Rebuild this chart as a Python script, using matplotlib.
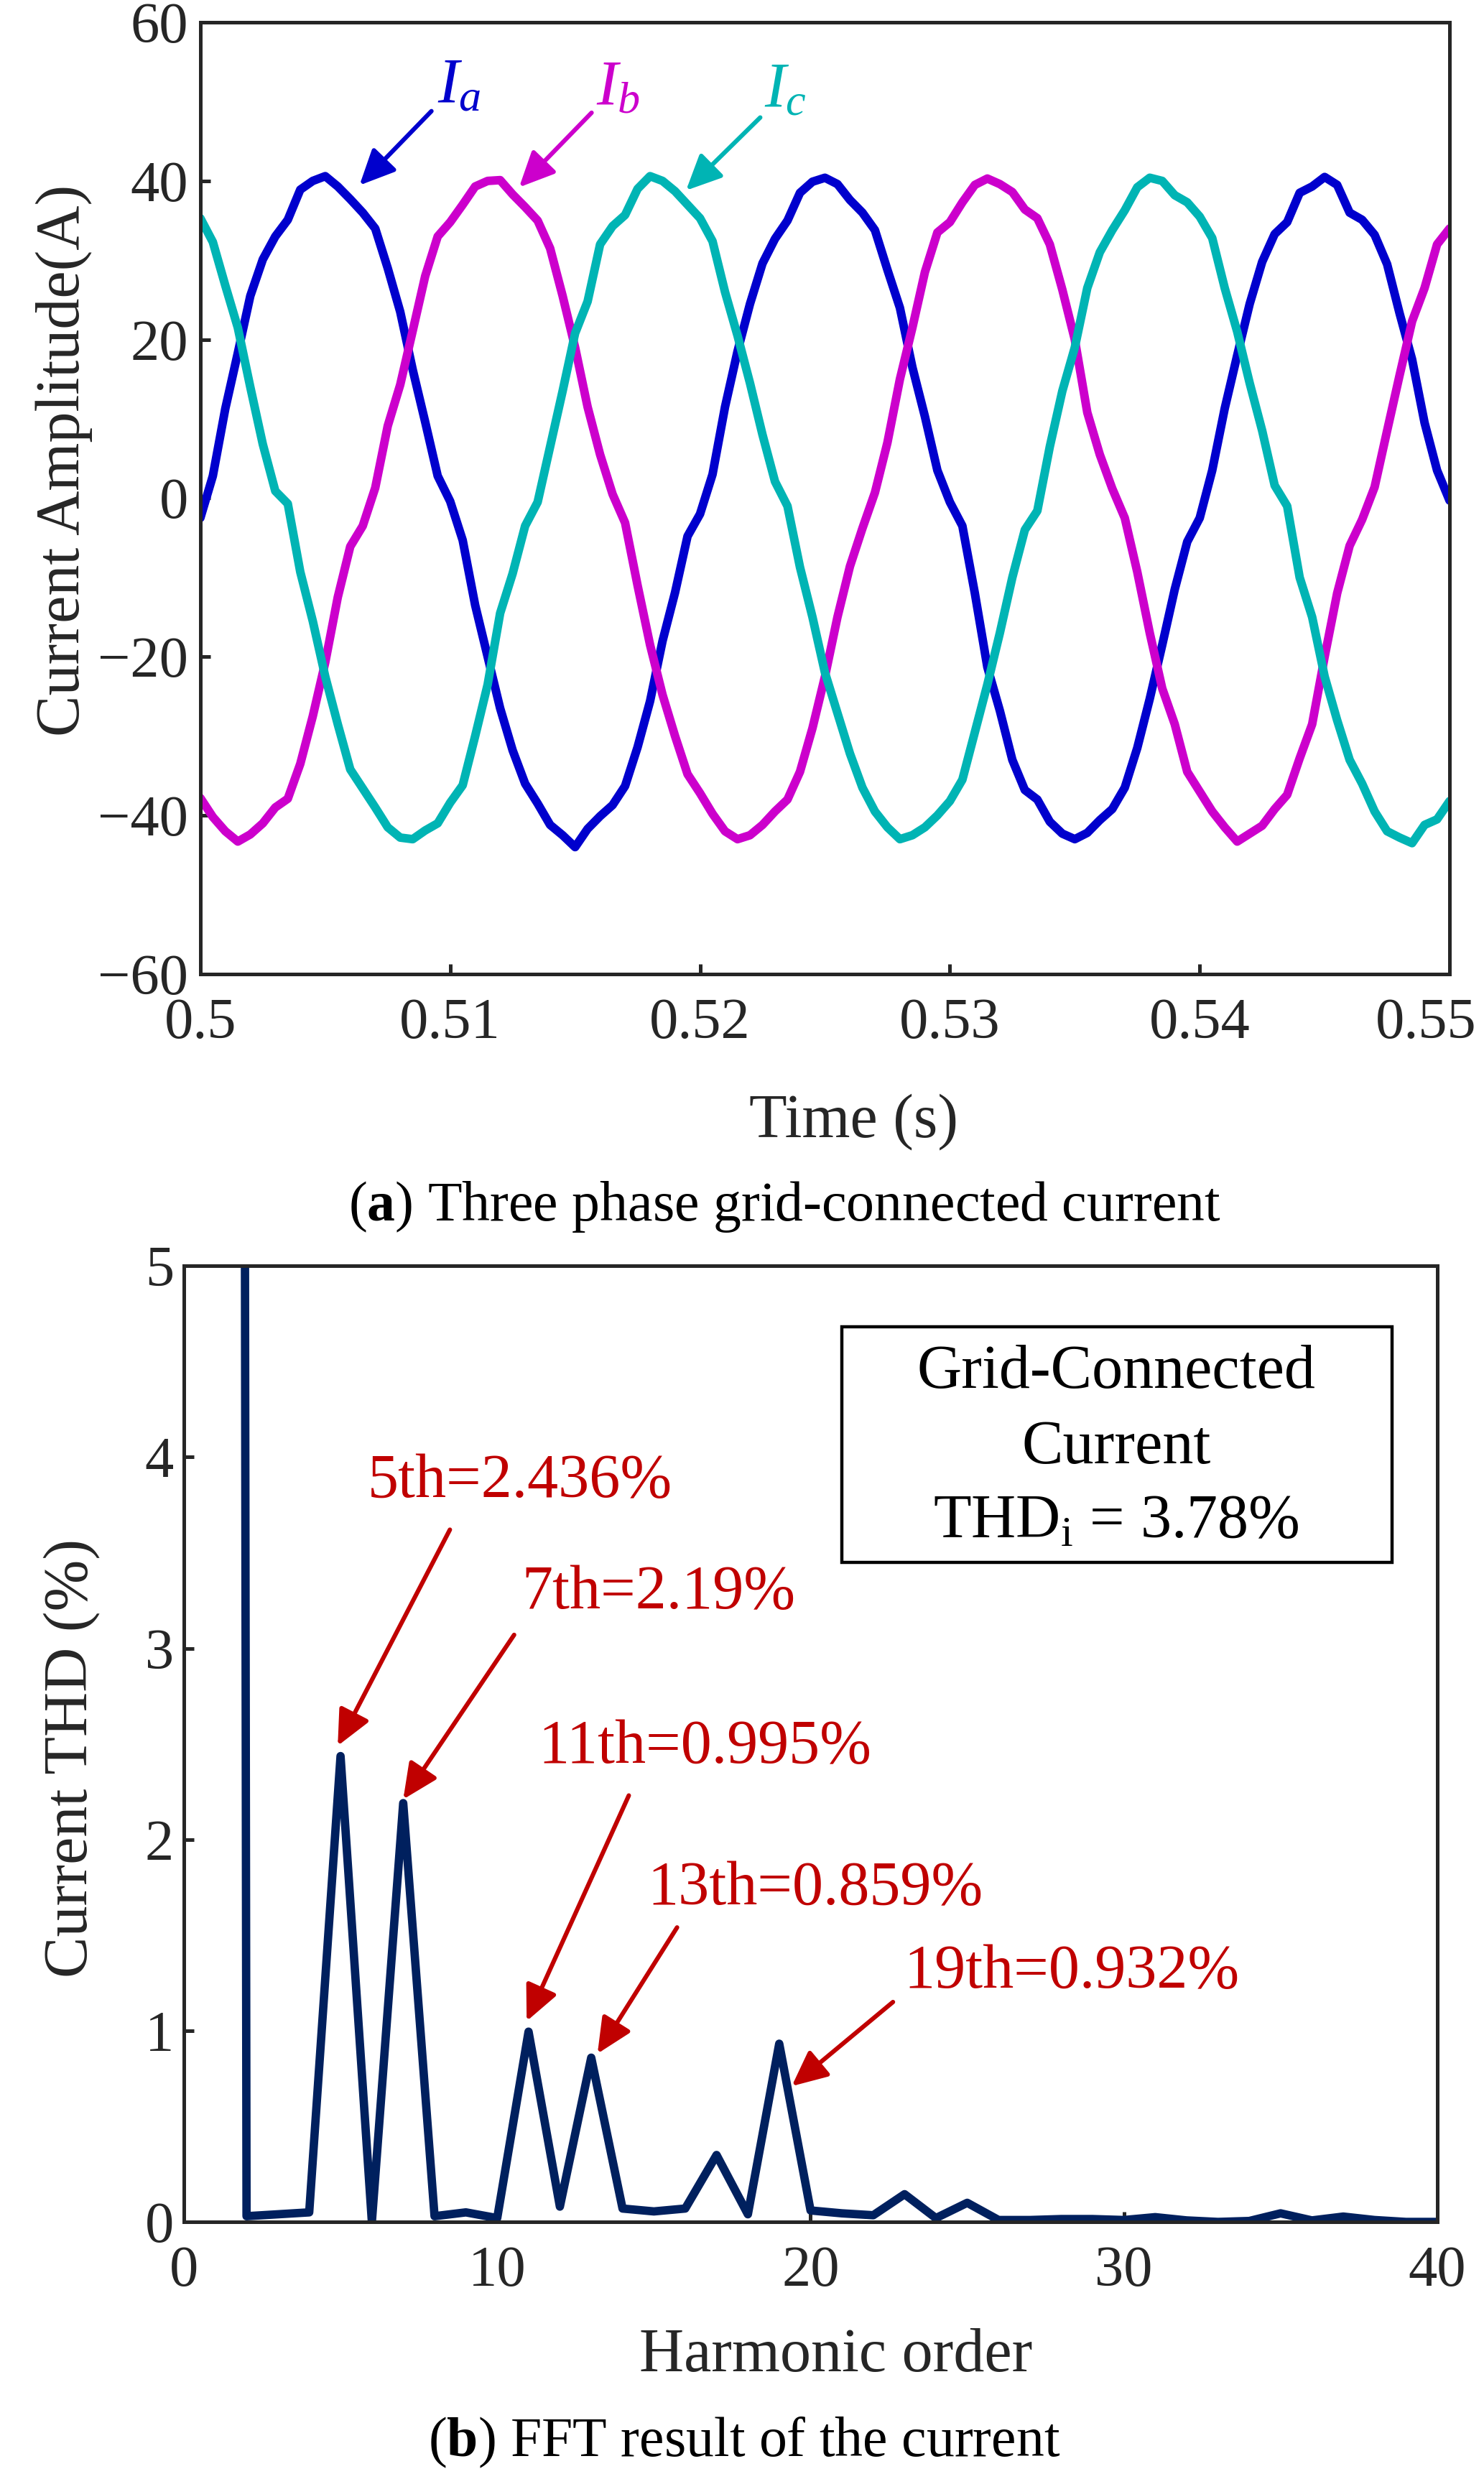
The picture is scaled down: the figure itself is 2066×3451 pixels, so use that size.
import numpy as np
import matplotlib
matplotlib.use('Agg')
import matplotlib.pyplot as plt
import matplotlib.transforms as mtransforms
from matplotlib.patches import Rectangle

plt.rcParams['font.family'] = ['Liberation Serif', 'DejaVu Serif']
plt.rcParams['mathtext.fontset'] = 'custom'
plt.rcParams['mathtext.rm'] = 'Liberation Serif'
plt.rcParams['mathtext.it'] = 'Liberation Serif:italic'
plt.rcParams['mathtext.bf'] = 'Liberation Serif:bold'

# (a) three phase current, sampled every 0.5 ms from 0.5 s to 0.55 s
t = np.linspace(0.5, 0.55, 101)
ia = [-2.5, 2.8, 11.3, 18.3, 25.5, 30.1, 33.0, 35.1, 38.9, 40.0,
      40.6, 39.3, 37.7, 36.0, 34.0, 29.0, 23.5, 16.2, 9.6, 2.8,
      -0.4, -5.3, -13.5, -20.0, -26.5, -31.8, -36.0, -38.5, -41.2, -42.5,
      -44.0, -41.7, -40.1, -38.7, -36.3, -31.4, -25.6, -18.0, -11.9, -4.8,
      -2.0, 3.0, 11.5, 18.5, 24.5, 29.6, 32.7, 35.0, 38.5, 39.9,
      40.4, 39.6, 37.6, 36.0, 33.8, 28.8, 24.0, 16.5, 10.3, 3.5,
      -0.5, -3.5, -12.0, -21.3, -26.8, -33.0, -36.8, -38.0, -40.8, -42.3,
      -43.0, -42.2, -40.6, -39.2, -36.5, -31.5, -25.3, -18.5, -11.5, -5.5,
      -2.5, 3.5, 11.3, 18.0, 24.5, 29.8, 33.3, 34.8, 38.5, 39.3,
      40.5, 39.5, 36.0, 35.1, 33.2, 29.5, 23.3, 17.5, 9.5, 3.5,
      -0.3]
ib = [-37.8, -40.2, -42.0, -43.3, -42.4, -41.0, -39.0, -37.9, -33.5, -27.5,
      -20.7, -12.5, -6.1, -3.5, 1.3, 9.1, 14.3, 21.1, 28.0, 33.0,
      34.8, 37.0, 39.3, 40.0, 40.1, 38.3, 36.7, 35.0, 31.5, 25.5,
      19.0, 11.5, 5.5, 0.5, -3.1, -11.0, -18.5, -24.8, -30.0, -34.8,
      -37.2, -39.8, -42.0, -43.0, -42.5, -41.2, -39.5, -38.0, -34.5, -29.0,
      -22.5, -15.0, -8.6, -3.8, 0.7, 7.0, 15.0, 21.5, 28.5, 33.5,
      34.8, 37.3, 39.5, 40.3, 39.6, 38.6, 36.4, 35.3, 32.0, 26.3,
      20.0, 10.8, 5.5, 1.2, -2.5, -9.3, -17.0, -24.0, -28.5, -34.5,
      -37.0, -39.5, -41.5, -43.3, -42.3, -41.3, -39.2, -37.4, -32.8, -28.5,
      -20.0, -12.0, -6.0, -2.7, 1.4, 8.5, 15.5, 22.3, 26.5, 32.0,
      34.0]
ic = [35.3, 32.3, 26.8, 21.5, 14.0, 6.8, 0.9, -0.7, -9.3, -15.5,
      -22.5, -28.5, -34.2, -36.6, -39.0, -41.5, -42.8, -43.0, -41.9, -41.0,
      -38.4, -36.2, -30.0, -23.5, -14.5, -9.5, -3.5, -0.5, 6.5, 13.5,
      20.8, 24.8, 32.0, 34.3, 35.7, 39.0, 40.6, 40.0, 38.7, 37.0,
      35.3, 32.4, 26.0, 20.5, 14.5, 8.0, 2.1, -1.0, -8.7, -15.0,
      -22.0, -27.1, -32.2, -36.5, -39.5, -41.5, -43.0, -42.5, -41.5, -40.0,
      -38.2, -35.5, -29.5, -23.5, -17.0, -10.0, -4.0, -1.6, 6.5, 13.5,
      19.0, 26.5, 31.0, 33.8, 36.3, 39.2, 40.4, 40.0, 38.2, 37.3,
      35.5, 32.8, 26.5, 21.0, 14.5, 8.5, 1.6, -1.0, -10.0, -15.0,
      -22.5, -28.0, -33.0, -36.0, -39.5, -42.0, -42.8, -43.5, -41.2, -40.5,
      -38.2]
time_ticks = [0.5, 0.51, 0.52, 0.53, 0.54, 0.55]
time_labels = ['0.5', '0.51', '0.52', '0.53', '0.54', '0.55']
amp_ticks = [-60, -40, -20, 0, 20, 40, 60]

# (b) FFT spectrum, harmonic order 1..40 (fundamental = 100 %)
orders = list(range(1, 41))
thd = [100.0, 0.03, 0.04, 0.05, 2.436, 0.0, 2.19, 0.03, 0.05, 0.02,
       0.995, 0.08, 0.859, 0.07, 0.055, 0.07, 0.35, 0.04, 0.932, 0.06,
       0.045, 0.035, 0.145, 0.02, 0.1, 0.01, 0.01, 0.015, 0.015, 0.01,
       0.025, 0.008, 0.0, 0.005, 0.045, 0.008, 0.028, 0.01, 0.0, 0.0]
harm_labels = ['5th=2.436%', '7th=2.19%', '11th=0.995%', '13th=0.859%', '19th=0.932%']

gray = '#262626'
blue, magenta, cyan = '#0000CD', '#CC00CC', '#00B4B4'
red = '#C00000'
navy = '#00205E'

fig = plt.figure(figsize=(10.33, 17.255), dpi=200)

# ---------- top panel ----------
ax1 = fig.add_axes([0.1350, 0.6071, 0.8418, 0.3839])
for y, col in [(ia, blue), (ib, magenta), (ic, cyan)]:
    ax1.plot(t, y, color=col, lw=4.3, solid_joinstyle='round', solid_capstyle='round')
ax1.set_xlim(0.5, 0.55)
ax1.set_ylim(-60, 60)
ax1.set_xticks(time_ticks)
ax1.set_xticklabels(time_labels)
ax1.set_yticks(amp_ticks)
ax1.tick_params(direction='in', length=5, width=1.8, labelsize=29, colors=gray,
                top=False, right=False)
ax1.tick_params(axis='x', pad=12)
ax1.tick_params(axis='y', pad=6)
# last time label sits a bit left of its tick so it stays inside the figure
last = ax1.get_xticklabels()[-1]
last.set_transform(last.get_transform() +
                   mtransforms.ScaledTranslation(-12 / 72, 0, fig.dpi_scale_trans))
for s in ax1.spines.values():
    s.set_linewidth(1.8)
    s.set_color(gray)
ax1.set_ylabel('Current Amplitude(A)', fontsize=31, color=gray, va='center')
ax1.yaxis.set_label_coords(-0.109, 0.54)
ax1.set_xlabel('Time (s)', fontsize=31, color=gray, va='center')
ax1.xaxis.set_label_coords(0.523, -0.155)

phase_txt = [(r'$I_a$', blue, (0.50949, 49.9), (0.50925, 48.8), (0.50637, 39.45)),
             (r'$I_b$', magenta, (0.51584, 49.7), (0.51566, 48.6), (0.51276, 39.2)),
             (r'$I_c$', cyan, (0.52257, 49.4), (0.52241, 48.0), (0.51944, 38.8))]
for lab, col, tp, tail, head in phase_txt:
    ax1.text(tp[0], tp[1], lab, color=col, fontsize=32, ha='left', va='baseline')
    ax1.annotate('', xy=head, xytext=tail,
                 arrowprops=dict(arrowstyle='-|>,head_length=1.5,head_width=0.7',
                                 mutation_scale=10, lw=2.2, color=col,
                                 shrinkA=0, shrinkB=0))

fig.text(0.5286, 0.5132, r'($\mathbf{a}$) Three phase grid-connected current',
         fontsize=28, ha='center', va='center', color='black')

# ---------- bottom panel ----------
ax2 = fig.add_axes([0.1239, 0.1037, 0.8446, 0.3857])
ax2.plot(orders, thd, color=navy, lw=4.2, solid_joinstyle='round')
ax2.set_xlim(0, 40)
ax2.set_ylim(0, 5)
ax2.set_xticks([0, 10, 20, 30, 40])
ax2.set_yticks([0, 1, 2, 3, 4, 5])
ax2.tick_params(direction='in', length=5, width=1.8, labelsize=29, colors=gray,
                top=False, right=False)
ax2.tick_params(axis='x', pad=12)
ax2.tick_params(axis='y', pad=5)
for s in ax2.spines.values():
    s.set_linewidth(1.8)
    s.set_color(gray)
ax2.set_ylabel('Current THD (%)', fontsize=31, color=gray, va='center')
ax2.yaxis.set_label_coords(-0.0894, 0.485)
ax2.set_xlabel('Harmonic order', fontsize=31, color=gray, va='center')
ax2.xaxis.set_label_coords(0.52, -0.1405)

lab_pos = [(5.87, 3.789), (10.78, 3.21), (11.31, 2.40), (14.80, 1.66), (22.98, 1.225)]
arrows = [((8.49, 3.62), (4.91, 2.49)),
          ((10.54, 3.07), (7.0, 2.21)),
          ((14.2, 2.23), (10.94, 1.05)),
          ((15.74, 1.54), (13.2, 0.88)),
          ((22.63, 1.15), (19.4, 0.71))]
for lab, pos, (tail, head) in zip(harm_labels, lab_pos, arrows):
    ax2.text(pos[0], pos[1], lab, color=red, fontsize=31, ha='left', va='baseline')
    ax2.annotate('', xy=head, xytext=tail,
                 arrowprops=dict(arrowstyle='-|>,head_length=1.5,head_width=0.7',
                                 mutation_scale=10, lw=2.2, color=red,
                                 shrinkA=0, shrinkB=0))

ax2.add_patch(Rectangle((21.0, 3.45), 17.55, 1.23, fill=False, lw=1.6,
                        edgecolor='black', zorder=3))
ax2.text(29.75, 4.36, 'Grid-Connected', fontsize=31, ha='center', va='baseline')
ax2.text(29.75, 3.967, 'Current', fontsize=31, ha='center', va='baseline')
ax2.text(29.75, 3.58, r'THD$_\mathrm{i}$ = 3.78%', fontsize=31, ha='center', va='baseline')

fig.text(0.5015, 0.0148, r'($\mathbf{b}$) FFT result of the current',
         fontsize=28, ha='center', va='center', color='black')

fig.savefig('out.png', dpi=200, facecolor='white')
